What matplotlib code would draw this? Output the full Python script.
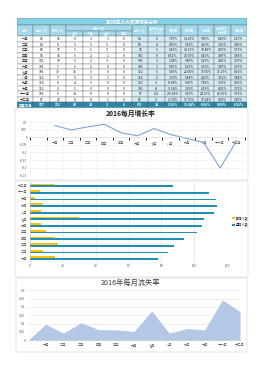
import numpy as np
import matplotlib
matplotlib.use("Agg")
import matplotlib.pyplot as plt
from matplotlib.patches import Rectangle, FancyBboxPatch

plt.rcParams['font.family'] = ['Noto Sans CJK SC', 'DejaVu Sans']
plt.rcParams['axes.unicode_minus'] = False

# ---- data ----
months = ['一月', '二月', '三月', '四月', '五月', '六月', '七月', '八月', '九月', '十月', '十一月', '十二月']
start_staff = [78, 84, 88, 94, 102, 105, 106, 112, 114, 113, 109, 87]
new_staff = [15, 8, 17, 15, 10, 7, 30, 7, 8, 3, 6, 15]
quit_vol = [6, 3, 5, 6, 5, 6, 15, 3, 4, 5, 14, 8]
quit_fired = [3, 3, 6, 2, 2, 2, 9, 3, 5, 3, 8, 8]
quit_retire = [1, 3, 3, 1, 3, 0, 0, 1, 0, 0, 0, 1]
quit_other = [0, 0, 0, 0, 0, 0, 0, 0, 0, 0, 0, 0]
end_staff = [84, 88, 94, 102, 105, 106, 112, 114, 113, 109, 87, 85]
diff_staff = [6, 4, 6, 8, 3, 1, 6, 2, -1, -4, -22, -2]
growth = [0.0769, 0.0476, 0.0682, 0.0851, 0.0294, 0.0095, 0.0566, 0.0179, -0.0088, -0.0354, -0.2018, -0.0230]
new_rate = [0.1410, 0.0952, 0.1413, 0.1576, 0.0980, 0.0625, 0.2206, 0.0588, 0.0696, 0.0230, 0.0567, 0.1675]
loss_rate = [0.0966, 0.0429, 0.1048, 0.0642, 0.0625, 0.0536, 0.1765, 0.0420, 0.0708, 0.0619, 0.2429, 0.1724]
avg_rate = [0.0845, 0.0326, 0.0476, 0.0387, 0.0446, 0.0307, 0.1125, 0.0352, 0.0509, 0.0431, 0.1565, 0.0960]
quit_rate = [0.0215, 0.0389, 0.0971, 0.0383, 0.0379, 0.0379, 0.0862, 0.0384, 0.0453, 0.0372, 0.0763, 0.0786]
total_row = ['年度汇总', '987', '152', '42', '34', '3', '0', '691', '34', '5.16%', '10.44%', '8.96%', '8.00%', '8.16%']

table_title = '2016年人力资源流失分析'
head_single = ['月份', '月初人数', '新增人数', None, None, None, None, '月末人数',
               '月末较上月\n(+/-)人数', '增长率', '新增率', '流失率', '累计平均\n流失率', '离职率']
head_group = '离职人数'
head_sub = ['主动', '辞退', '退休', '其他']

W, H = 264, 368
fig = plt.figure(figsize=(W / 100, H / 100), dpi=100)
fig.patch.set_facecolor('white')


def px_axes(l, t, r, b):
    return fig.add_axes([l / W, 1 - b / H, (r - l) / W, (b - t) / H])


def frame(l, t, r, b):
    fig.patches.append(FancyBboxPatch((l / W, 1 - b / H), (r - l) / W, (b - t) / H,
                                      boxstyle='round,pad=0,rounding_size=0.004',
                                      transform=fig.transFigure, fill=False,
                                      edgecolor='#d9d9d9', linewidth=0.5))


# ---- table ----
tax = px_axes(17, 18, 247, 108)
ncol = 14
title_h, head_h = 1.3, 2.0
nrows = len(months) + 1
tax.set_xlim(0, ncol)
tax.set_ylim(title_h + head_h + nrows, 0)
tax.axis('off')

c_title = '#86cfe6'
c_head = '#a3d9ea'
c_right = '#d7edf6'
c_total = '#2b86a8'
c_edge = '#5a5a5a'
fs = 2.4


def cell(x, y, w, h, fc, txt='', color='#222222', size=fs, bold=False):
    tax.add_patch(Rectangle((x, y), w, h, facecolor=fc, edgecolor=c_edge, linewidth=0.25))
    if txt:
        tax.text(x + w / 2, y + h / 2, txt, ha='center', va='center', fontsize=size,
                 color=color, fontweight='bold' if bold else 'normal', linespacing=0.9)


cell(0, 0, ncol, title_h, c_title, table_title, 'white', 3.3, True)
for j, name in enumerate(head_single):
    if name is not None:
        cell(j, title_h, 1, head_h, c_head, name, 'white', 2.2)
cell(3, title_h, 4, head_h / 2, c_head, head_group, 'white', 2.2)
for k, name in enumerate(head_sub):
    cell(3 + k, title_h + head_h / 2, 1, head_h / 2, c_head, name, 'white', 2.2)

y0 = title_h + head_h
for i, m in enumerate(months):
    vals = [m, start_staff[i], new_staff[i], quit_vol[i], quit_fired[i], quit_retire[i],
            quit_other[i], end_staff[i], diff_staff[i],
            f'{growth[i]*100:.2f}%', f'{new_rate[i]*100:.2f}%', f'{loss_rate[i]*100:.2f}%',
            f'{avg_rate[i]*100:.2f}%', f'{quit_rate[i]*100:.2f}%']
    for j, v in enumerate(vals):
        cell(j, y0 + i, 1, 1, 'white' if j < 7 else c_right, str(v))
for j, v in enumerate(total_row):
    cell(j, y0 + len(months), 1, 1, c_total, v, 'white', fs, True)

# ---- line chart: monthly growth ----
frame(15, 108, 248, 180)
lax = px_axes(30, 122, 245, 175.3)
cats13 = [''] + months
xpos = np.arange(len(cats13)) + 0.5
lax.plot(xpos[1:], growth, color='#7fa3d9', linewidth=0.8)
lax.set_xlim(0, len(cats13))
lax.set_ylim(-0.25, 0.1)
lax.set_yticks([0.1, 0.05, 0, -0.05, -0.1, -0.15, -0.2, -0.25])
lax.set_yticklabels(['0.1', '0.05', '0', '-0.05', '-0.1', '-0.15', '-0.2', '-0.25'])
lax.set_xticks(xpos[1:])
lax.set_xticklabels(months)
lax.spines['bottom'].set_position(('data', 0))
for s in ['top', 'right', 'left']:
    lax.spines[s].set_visible(False)
lax.spines['bottom'].set_color('#d9d9d9')
lax.spines['bottom'].set_linewidth(0.4)
lax.grid(axis='y', color='#ececec', linewidth=0.4)
lax.set_xticks(np.arange(len(cats13) + 1), minor=True)
lax.grid(axis='x', which='minor', color='#f2f2f2', linewidth=0.4)
lax.tick_params(length=0, labelsize=2.3, colors='#555555', pad=2)
lax.tick_params(axis='x', pad=3)
lax.set_axisbelow(True)
fig.text(131 / W, 1 - 113 / H, '2016每月增长率', ha='center', va='center',
         fontsize=4.9, fontweight='bold', color='#222222')

# ---- bar chart: start staff vs new staff ----
frame(15, 181, 248, 277)
bax = px_axes(30, 182, 227, 261.5)
ypos = np.arange(len(months))
bh = 0.26
bax.barh(ypos - bh / 2, start_staff, height=bh, color='#1f8fb8', label='月初人数')
bax.barh(ypos + bh / 2, new_staff, height=bh, color='#ffc000', label='新增人数')
bax.set_xlim(0, 120)
bax.set_ylim(-0.5, len(months) - 0.5)
bax.set_xticks(np.arange(0, 121, 20))
bax.set_yticks(ypos)
bax.set_yticklabels(months)
bax.grid(axis='x', color='#dcdcdc', linewidth=0.4)
bax.set_axisbelow(True)
for s in ['top', 'right', 'bottom']:
    bax.spines[s].set_visible(False)
bax.spines['left'].set_color('#bfbfbf')
bax.spines['left'].set_linewidth(0.4)
bax.tick_params(length=0, labelsize=2.3, colors='#555555', pad=2)
h, lab = bax.get_legend_handles_labels()
bax.legend(h[::-1], lab[::-1], loc='center left', bbox_to_anchor=(1.02, 0.5), frameon=False,
           fontsize=2.3, handlelength=0.8, handleheight=0.8, handletextpad=0.4,
           labelspacing=0.9, borderaxespad=0)

# ---- area chart: monthly loss rate ----
frame(16, 278, 247, 352)
aax = px_axes(28, 290.3, 240, 340.3)
area_cats = [''] + months
area_vals = [0] + loss_rate
ax_x = np.arange(len(area_cats))
aax.fill_between(ax_x, area_vals, color='#b4c7e7', linewidth=0)
aax.set_xlim(0, len(area_cats) - 1)
aax.set_ylim(0, 0.3)
aax.set_yticks(np.arange(0, 0.31, 0.05))
aax.set_yticklabels(['0', '0.05', '0.1', '0.15', '0.2', '0.25', '0.3'])
aax.set_xticks(ax_x)
aax.set_xticklabels(area_cats)
aax.grid(axis='y', color='#e3e3e3', linewidth=0.4)
aax.set_axisbelow(True)
for s in ['top', 'right', 'left']:
    aax.spines[s].set_visible(False)
aax.spines['bottom'].set_color('#d0d0d0')
aax.spines['bottom'].set_linewidth(0.4)
aax.tick_params(length=0, labelsize=2.3, colors='#555555', pad=2)
fig.text(131 / W, 1 - 282.5 / H, '2016年每月流失率', ha='center', va='center',
         fontsize=5.2, color='#404040')

fig.savefig('out.png', dpi=100, facecolor='white')
